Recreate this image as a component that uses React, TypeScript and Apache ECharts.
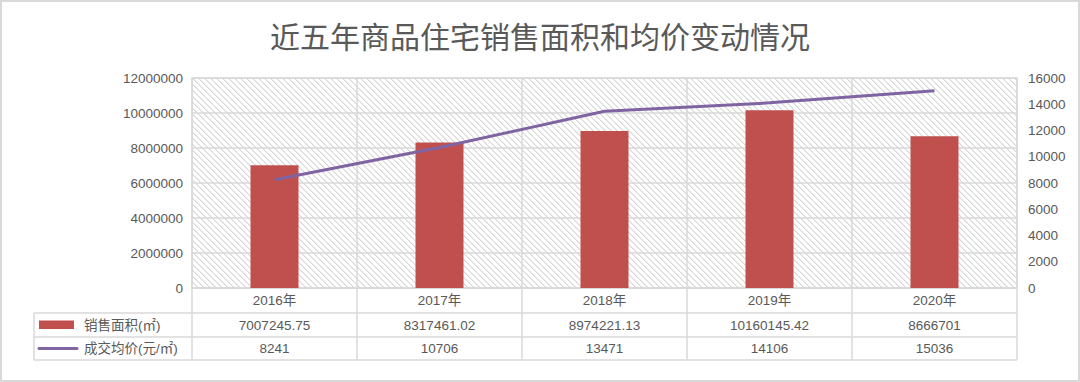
import React, { useEffect, useRef } from "react";
import * as echarts from "echarts";

const TITLE = "近五年商品住宅销售面积和均价变动情况";
const years = ["2016年", "2017年", "2018年", "2019年", "2020年"];
const areaLabel = "销售面积(㎡)";
const priceLabel = "成交均价(元/㎡)";
const areaValues = [7007245.75, 8317461.02, 8974221.13, 10160145.42, 8666701];
const areaText = ["7007245.75", "8317461.02", "8974221.13", "10160145.42", "8666701"];
const priceValues = [8241, 10706, 13471, 14106, 15036];

const W = 1080;
const H = 382;
const GRID_LEFT = 192;
const GRID_RIGHT_X = 1017;
const GRID_TOP = 78;
const GRID_BOTTOM_Y = 288;
const TABLE_LEFT = 34;
const ROW_Y = [313, 337, 360];
const TEXT_COLOR = "#595959";
const LINE_COLOR = "#d9d9d9";
const BAR_COLOR = "#C0504D";
const PURPLE = "#8064A2";
const FONT = "'Liberation Sans', 'Noto Sans CJK SC', sans-serif";

function makeHatch() {
  const c = document.createElement("canvas");
  c.width = 6;
  c.height = 6;
  const ctx = c.getContext("2d")!;
  ctx.fillStyle = "#ffffff";
  ctx.fillRect(0, 0, 6, 6);
  for (let i = 0; i < 6; i++) {
    ctx.fillStyle = "#d6d6d6";
    ctx.fillRect(i, i, 1, 1);
    ctx.fillStyle = "#ececec";
    ctx.fillRect((i + 1) % 6, i, 1, 1);
  }
  return c;
}

export default function App() {
  const ref = useRef<HTMLDivElement>(null);
  useEffect(() => {
    document.body.style.margin = "0";
    const chart = echarts.init(ref.current!, null, { renderer: "svg" });
    const n = years.length;
    const cw = (GRID_RIGHT_X - GRID_LEFT) / n;
    const centers = years.map((_, i) => GRID_LEFT + cw * (i + 0.5));

    const graphics: any[] = [
      {
        type: "rect",
        shape: { x: 1, y: 1, width: W - 2, height: H - 2 },
        style: { fill: "none", stroke: LINE_COLOR, lineWidth: 2 },
        silent: true,
      },
      {
        type: "text",
        x: W / 2,
        y: 35,
        style: {
          text: TITLE,
          fill: TEXT_COLOR,
          font: "30px 'Noto Sans CJK SC', sans-serif",
          align: "center",
          verticalAlign: "middle",
        },
      },
    ];
    ROW_Y.forEach((y) => {
      graphics.push({
        type: "line",
        shape: { x1: TABLE_LEFT, y1: y, x2: GRID_RIGHT_X, y2: y },
        style: { stroke: LINE_COLOR, lineWidth: 1.5 },
      });
    });
    const vx = [TABLE_LEFT, ...years.map((_, i) => GRID_LEFT + cw * i), GRID_RIGHT_X];
    vx.forEach((x) => {
      graphics.push({
        type: "line",
        shape: { x1: x, y1: ROW_Y[0], x2: x, y2: ROW_Y[2] },
        style: { stroke: LINE_COLOR, lineWidth: 1.5 },
      });
    });
    const r1 = (ROW_Y[0] + ROW_Y[1]) / 2;
    const r2 = (ROW_Y[1] + ROW_Y[2]) / 2;
    graphics.push({
      type: "rect",
      shape: { x: 39, y: r1 - 4.5, width: 35, height: 8.5 },
      style: { fill: BAR_COLOR },
    });
    graphics.push({
      type: "line",
      shape: { x1: 39, y1: r2, x2: 77, y2: r2 },
      style: { stroke: PURPLE, lineWidth: 3, lineCap: "round" },
    });
    graphics.push({
      type: "text",
      x: 84,
      y: r1,
      style: { text: areaLabel, fill: TEXT_COLOR, font: `13.5px ${FONT}`, verticalAlign: "middle" },
    });
    graphics.push({
      type: "text",
      x: 84,
      y: r2,
      style: { text: priceLabel, fill: TEXT_COLOR, font: `13.5px ${FONT}`, verticalAlign: "middle" },
    });
    centers.forEach((cx, i) => {
      graphics.push({
        type: "text",
        x: cx,
        y: r1,
        style: { text: areaText[i], fill: TEXT_COLOR, font: `13.5px ${FONT}`, align: "center", verticalAlign: "middle" },
      });
      graphics.push({
        type: "text",
        x: cx,
        y: r2,
        style: { text: String(priceValues[i]), fill: TEXT_COLOR, font: `13.5px ${FONT}`, align: "center", verticalAlign: "middle" },
      });
    });

    chart.setOption({
      animation: false,
      backgroundColor: "#ffffff",
      textStyle: { fontFamily: FONT },
      grid: {
        left: GRID_LEFT,
        top: GRID_TOP,
        width: GRID_RIGHT_X - GRID_LEFT,
        height: GRID_BOTTOM_Y - GRID_TOP,
        show: true,
        borderColor: LINE_COLOR,
        borderWidth: 1.5,
        backgroundColor: {
          image: makeHatch(),
          repeat: "repeat",
          imageWidth: 6,
          imageHeight: 6,
        } as any,
      },
      xAxis: {
        type: "category",
        data: years,
        boundaryGap: true,
        axisLine: { show: true, lineStyle: { color: LINE_COLOR, width: 1.5 } },
        axisTick: { show: true, length: 25, interval: 0, lineStyle: { color: LINE_COLOR, width: 1.5 } },
        splitLine: { show: true, interval: 0, lineStyle: { color: LINE_COLOR, width: 1.5 } },
        axisLabel: { color: TEXT_COLOR, fontSize: 13.5, margin: 6, interval: 0, fontFamily: FONT },
      },
      yAxis: [
        {
          type: "value",
          min: 0,
          max: 12000000,
          interval: 2000000,
          axisLine: { show: false },
          axisTick: { show: false },
          splitLine: { show: true, lineStyle: { color: LINE_COLOR, width: 1.5 } },
          axisLabel: { color: TEXT_COLOR, fontSize: 13.5, margin: 9, fontFamily: FONT, formatter: (v: number) => String(v) },
        },
        {
          type: "value",
          min: 0,
          max: 16000,
          interval: 2000,
          position: "right",
          axisLine: { show: false },
          axisTick: { show: false },
          splitLine: { show: false },
          axisLabel: { color: TEXT_COLOR, fontSize: 13.5, margin: 11, fontFamily: FONT, formatter: (v: number) => String(v) },
        },
      ],
      series: [
        {
          name: areaLabel,
          type: "bar",
          data: areaValues,
          barWidth: 48,
          itemStyle: { color: BAR_COLOR },
          z: 2,
        },
        {
          name: priceLabel,
          type: "line",
          yAxisIndex: 1,
          data: priceValues,
          symbol: "none",
          lineStyle: { color: PURPLE, width: 3 },
          z: 3,
        },
      ],
      graphic: graphics,
    });
    return () => chart.dispose();
  }, []);
  return (
    <div
      ref={ref}
      style={{ position: "absolute", left: 0, top: 0, width: W, height: H }}
    />
  );
}
